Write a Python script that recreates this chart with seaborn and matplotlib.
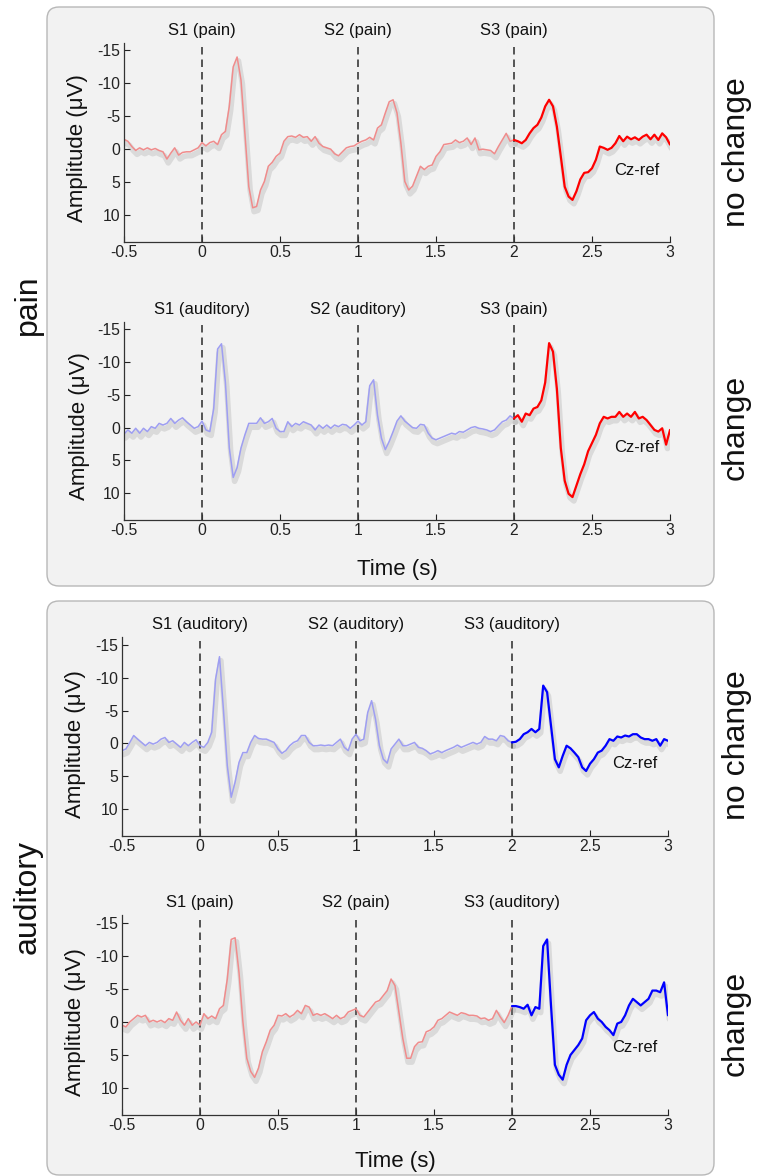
import numpy as np
import pandas as pd
import matplotlib
matplotlib.use("Agg")
import matplotlib.pyplot as plt
import seaborn as sns
from matplotlib.patches import FancyBboxPatch
import matplotlib.patheffects as pe
from matplotlib.ticker import FuncFormatter

sns.set_style("ticks")
plt.rcParams['font.family'] = ['Liberation Sans', 'DejaVu Sans']
plt.rcParams['axes.unicode_minus'] = False

# ---------------- data ----------------
T_START, T_STEP, N_SAMPLES = -0.5, 0.025, 141
time = np.round(T_START + T_STEP * np.arange(N_SAMPLES), 3)
ONSET_IDX = 100  # sample of S3 onset (t = 2 s)

pain_nochange = [
    -1.5, -1.2, -0.4, 0.2, -0.2, 0.1, -0.2, 0.1, -0.1, 0.2,
    0.4, 1.5, 0.6, -0.2, 0.9, 0.5, 0.4, 0.4, 0.1, -0.2,
    -1.0, -0.5, -1.0, -1.2, -0.7, -2.2, -2.7, -6.5, -12.5, -14.0,
    -10.5, -2.4, 5.7, 8.9, 8.7, 6.2, 4.9, 2.6, 2.0, 1.1,
    0.6, -1.2, -1.9, -2.0, -1.8, -2.2, -1.8, -1.9, -1.2, -1.9,
    -0.9, -0.4, -0.2, 0.0, 0.7, 1.0, 0.4, -0.2, -0.4, -0.5,
    -0.9, -1.2, -1.4, -1.8, -1.4, -3.2, -3.7, -5.5, -7.2, -7.5,
    -5.5, -0.9, 4.9, 6.2, 5.6, 4.1, 2.6, 3.1, 2.6, 2.4,
    1.1, 0.4, -0.7, -0.8, -0.9, -1.4, -1.0, -1.2, -1.7, -0.7,
    -1.7, 0.1, 0.0, 0.1, 0.2, 0.7, -0.4, -1.4, -2.4, -1.2,
    -1.4, -1.2, -0.9, -1.4, -2.4, -3.2, -3.7, -4.8, -6.5, -7.5,
    -6.5, -3.4, 1.1, 5.7, 7.2, 7.7, 6.4, 4.6, 3.6, 3.5,
    2.9, 1.6, -0.4, -0.2, 0.1, -0.2, -0.9, -2.0, -1.2, -1.9,
    -1.5, -1.8, -1.4, -1.9, -2.2, -1.5, -2.2, -1.4, -2.4, -1.8,
    -0.7,
]

pain_change = [
    1.0, 0.35, 0.85, 0.1, 0.85, 0.1, 0.6, -0.15, 0.1, -0.65,
    -0.4, -0.65, -1.4, -0.65, -1.15, -1.5, -0.9, -0.4, 0.1, -0.15,
    -1.0, 0.35, 0.6, -2.9, -12.0, -12.8, -6.9, 3.1, 7.6, 6.1,
    3.1, 1.1, -0.65, -0.65, -0.65, -1.5, -0.65, -0.9, -1.4, 0.1,
    0.6, 0.6, -0.9, -0.15, -0.65, -0.4, -0.9, -0.65, -0.4, 0.35,
    -0.4, 0.1, -0.4, 0.1, -0.4, -0.15, -0.5, -0.4, 0.1, -0.4,
    -1.0, -0.4, -0.9, -6.4, -7.3, -1.9, 1.6, 3.35, 2.1, 0.6,
    -1.0, -1.8, -1.0, -0.5, 0.0, 0.1, -0.5, -0.4, 0.85, 1.6,
    1.85, 1.6, 1.35, 1.1, 0.85, 1.0, 0.6, 0.7, 0.35, 0.0,
    -0.15, 0.1, 0.2, 0.35, 0.6, 0.35, -0.3, -0.9, -1.15, -1.8,
    -1.4, -1.9, -0.9, -2.15, -1.9, -2.9, -3.15, -4.15, -6.9, -12.9,
    -11.6, -5.9, 3.1, 8.1, 10.1, 10.6, 8.85, 7.1, 5.6, 3.6,
    2.35, 1.1, -0.65, -1.65, -1.4, -1.65, -1.65, -2.4, -1.65, -2.15,
    -1.65, -2.4, -1.4, -1.65, -1.15, -0.4, 0.35, 0.6, 0.1, 2.6,
    0.35,
]

aud_nochange = [
    1.1, 0.85, -0.15, -1.2, -0.65, -0.15, 0.35, -0.15, 0.1, -0.15,
    -0.65, -0.9, -0.15, -0.4, 0.1, 0.6, -0.15, 0.35, -0.15, -0.55,
    0.35, 0.6, -0.15, -1.7, -9.8, -13.2, -5.2, 3.4, 8.2, 5.9,
    2.9, 1.4, 1.4, -0.15, -1.2, -0.75, -0.65, -0.65, -0.4, -0.15,
    0.85, 1.5, 1.1, 0.35, -0.15, -0.4, -1.2, -1.2, -0.15, 0.35,
    0.35, 0.25, 0.35, 0.25, 0.35, -0.15, -0.65, 0.6, 1.1, -0.65,
    -1.4, -0.4, -0.65, -4.7, -6.5, -3.7, 0.35, 2.4, 3.0, 0.85,
    0.1, -0.65, 0.35, 0.35, 0.1, -0.15, 0.6, 0.75, 1.1, 1.6,
    1.4, 1.1, 1.4, 1.1, 0.85, 0.6, 0.25, 0.6, 0.35, 0.1,
    -0.15, 0.1, -0.15, -1.05, -0.65, -0.65, -0.4, -1.2, -1.05, -0.4,
    -0.15, -0.25, -0.65, -1.4, -1.7, -2.2, -1.7, -2.2, -8.8, -7.8,
    -2.7, 2.4, 3.65, 1.9, 0.35, 0.75, 1.4, 2.1, 3.65, 4.2,
    3.1, 2.4, 1.4, 1.1, 0.35, -0.65, -0.4, -1.05, -0.9, -1.2,
    -1.05, -1.4, -1.4, -0.9, -0.65, -0.65, -0.4, -0.65, 0.35, -0.65,
    -0.4,
]

aud_change = [
    0.5, 0.75, 0.0, -0.5, -1.0, -0.75, -1.0, 0.0, -0.25, 0.0,
    -0.25, 0.1, -0.5, -0.25, -1.5, -0.25, 0.5, -0.5, 0.5, 0.0,
    0.5, -1.25, -0.5, -0.9, -0.5, -2.0, -2.5, -6.5, -12.5, -12.75,
    -7.5, 0.0, 5.5, 7.5, 8.4, 7.0, 4.5, 3.0, 1.25, 0.5,
    -1.0, -0.9, -1.25, -0.75, -1.1, -1.75, -1.25, -2.5, -2.25, -1.0,
    -1.25, -1.0, -1.25, -0.9, -0.5, -1.0, -0.5, -0.75, -1.5, -1.75,
    -2.0, -1.0, -0.75, -1.5, -2.25, -3.0, -3.25, -4.0, -4.75, -6.5,
    -5.5, -1.5, 2.5, 5.5, 5.5, 3.75, 3.1, 3.0, 1.5, 1.25,
    0.75, -0.25, -0.5, -1.0, -1.5, -1.25, -1.0, -1.4, -1.25, -1.0,
    -1.0, -0.9, -0.5, -0.6, -0.25, -0.5, -1.75, -0.75, 0.1, -1.0,
    -2.4, -2.4, -2.25, -2.0, -2.6, -1.0, -2.25, -2.0, -11.5, -12.5,
    -2.5, 6.5, 8.0, 8.75, 6.5, 5.0, 4.25, 3.5, 2.5, -0.25,
    -1.0, -1.5, -0.5, 0.0, 0.75, 1.25, 2.0, 0.25, 0.0, -1.0,
    -2.5, -3.5, -3.0, -2.5, -3.0, -3.5, -4.75, -4.75, -4.5, -6.0,
    -1.0,
]

series = [pain_nochange, pain_change, aud_nochange, aud_change]
stim_times = [0, 1, 2]
stim_names = [["pain", "pain", "pain"],
              ["auditory", "auditory", "pain"],
              ["auditory", "auditory", "auditory"],
              ["pain", "pain", "auditory"]]
first_mod = ["pain", "auditory", "auditory", "pain"]
third_mod = ["pain", "pain", "auditory", "auditory"]
row_labels = ["no change", "change", "no change", "change"]
block_labels = ["pain", "auditory"]
yticks = [-15, -10, -5, 0, 5, 10]
xticks = [-0.5, 0, 0.5, 1, 1.5, 2, 2.5, 3]
cz_y = [3.2, 3.0, 3.0, 3.9]

# ---------------- style ----------------
faded = {"pain": "#F08C8C", "auditory": "#9E9EF2"}
bold = {"pain": "#FF0000", "auditory": "#0000FF"}

W, H = 757, 1176
fig = plt.figure(figsize=(W / 100, H / 100), dpi=100, facecolor="white")

def fx(px):
    return px / W

def fy(py):
    return 1 - py / H

# grey rounded boxes (in inches)
for (x0, top, x1, bot) in [(47, 7, 714, 586), (47, 601, 714, 1175)]:
    box = FancyBboxPatch((x0 / 100, (H - bot) / 100), (x1 - x0) / 100, (bot - top) / 100,
                         boxstyle="round,pad=0,rounding_size=0.12",
                         transform=fig.dpi_scale_trans, facecolor="#f2f2f2",
                         edgecolor="#b8b8b8", linewidth=1.0, zorder=-5)
    fig.add_artist(box)

rects = [(124, 42.5, 546, 199.5), (124, 321.5, 546, 198.5),
         (122, 637, 546, 199), (122, 915, 546, 200)]
ylab_pos = [(77, 148), (79, 426), (76, 744), (76, 1022)]
right_pos = [(737, 152), (736, 427), (737, 745), (736, 1023)]

shadow = [pe.SimpleLineShadow(offset=(1.0, -2.8), shadow_color="#7a7a7a", alpha=0.2, linewidth=4.0),
          pe.Normal()]

for i, (l, t, w, h) in enumerate(rects):
    ax = fig.add_axes([fx(l), fy(t + h), w / W, h / H])
    ax.set_facecolor("none")
    vals = np.array(series[i], dtype=float)
    df1 = pd.DataFrame({"t": time[:ONSET_IDX + 1], "v": vals[:ONSET_IDX + 1]})
    df2 = pd.DataFrame({"t": time[ONSET_IDX:], "v": vals[ONSET_IDX:]})
    sns.lineplot(data=df1, x="t", y="v", ax=ax, color=faded[first_mod[i]], lw=1.1,
                 estimator=None, errorbar=None, sort=False)
    ax.lines[-1].set_path_effects(shadow)
    sns.lineplot(data=df2, x="t", y="v", ax=ax, color=bold[third_mod[i]], lw=1.6,
                 estimator=None, errorbar=None, sort=False)
    ax.lines[-1].set_path_effects(shadow)

    for k, (st, name) in enumerate(zip(stim_times, stim_names[i])):
        ax.axvline(st, color="#3a3a3a", lw=1.2, ls=(0, (4.5, 3)), zorder=1)
        ax.annotate(f"S{k + 1} ({name})", xy=(st, 1),
                    xycoords=("data", "axes fraction"), xytext=(0, 12),
                    textcoords="offset pixels", ha="center", va="center",
                    fontsize=12, color="#111111")

    ax.text(2.79, cz_y[i], "Cz-ref", ha="center", va="center", fontsize=12, color="#111111")

    ax.set_xlim(-0.5, 3.0)
    ax.set_ylim(14.1, -16.2)
    ax.set_xticks(xticks)
    ax.set_yticks(yticks)
    ax.xaxis.set_major_formatter(FuncFormatter(lambda v, p: f"{v:g}"))
    ax.yaxis.set_major_formatter(FuncFormatter(lambda v, p: f"{v:g}"))
    ax.tick_params(direction="in", length=4, width=0.8, labelsize=11.3,
                   colors="#222222")
    ax.tick_params(axis="x", pad=2.5)
    ax.tick_params(axis="y", pad=2.5)
    ax.set_xlabel("")
    ax.set_ylabel("")
    sns.despine(ax=ax)
    for s in ["left", "bottom"]:
        ax.spines[s].set_color("#333333")
        ax.spines[s].set_linewidth(0.9)

    fig.text(fx(ylab_pos[i][0]), fy(ylab_pos[i][1]), "Amplitude (\u03bcV)", rotation=90,
             ha="center", va="center", fontsize=16, color="#111111")
    fig.text(fx(right_pos[i][0]), fy(right_pos[i][1]), row_labels[i], rotation=90,
             ha="center", va="center", fontsize=23, color="#111111")

for (px, py) in [(397, 570), (395, 1162)]:
    fig.text(fx(px), fy(py), "Time (s)", ha="center", va="center", fontsize=16, color="#111111")

for (px, py), lab in zip([(28, 305), (28, 897)], block_labels):
    fig.text(fx(px), fy(py), lab, rotation=90, ha="center", va="center",
             fontsize=23, color="#111111")

fig.savefig("out.png", dpi=100, facecolor="white")
